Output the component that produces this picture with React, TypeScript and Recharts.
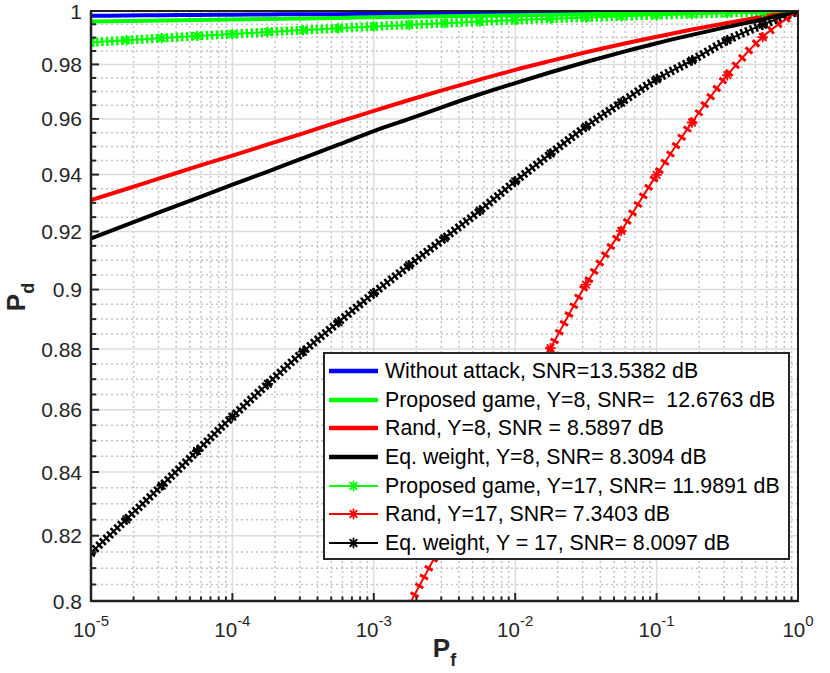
import React from "react";
import { LineChart, Line, XAxis, YAxis, CartesianGrid, Legend, Label } from "recharts";

// P_f grid, quarter-decade steps (exponents of ten)
const pfExp = [-5, -4.75, -4.5, -4.25, -4, -3.75, -3.5, -3.25, -3, -2.75, -2.5, -2.25, -2, -1.75, -1.5, -1.25, -1, -0.75, -0.5, -0.25, 0];
const pf = pfExp.map((e) => Math.pow(10, e));

// P_d
const noAttack = [0.9982, 0.9983, 0.9984, 0.9985, 0.9986, 0.9987, 0.9988, 0.9988, 0.9989, 0.999, 0.9991, 0.9992, 0.9993, 0.9994, 0.9995, 0.9995, 0.9996, 0.9997, 0.9998, 0.9999, 1.0];
const gameY8 = [0.996, 0.9962, 0.9964, 0.9966, 0.9968, 0.997, 0.9972, 0.9974, 0.9976, 0.9978, 0.998, 0.9982, 0.9984, 0.9986, 0.9988, 0.999, 0.9992, 0.9994, 0.9996, 0.9998, 1.0];
const randY8 = [0.931, 0.9349, 0.9389, 0.9429, 0.9468, 0.9508, 0.9548, 0.9589, 0.9629, 0.9669, 0.9707, 0.9744, 0.978, 0.9813, 0.9845, 0.9875, 0.9903, 0.993, 0.9955, 0.9978, 1.0];
const eqY8 = [0.9176, 0.9223, 0.927, 0.9317, 0.9364, 0.9411, 0.9459, 0.9507, 0.9556, 0.96, 0.9646, 0.969, 0.9731, 0.9771, 0.9809, 0.9845, 0.9879, 0.991, 0.994, 0.9968, 1.0];
const gameY17 = [0.9882, 0.989, 0.9898, 0.9906, 0.9913, 0.9921, 0.9928, 0.9935, 0.9942, 0.9948, 0.9954, 0.996, 0.9966, 0.9971, 0.9975, 0.998, 0.9984, 0.9988, 0.9992, 0.9996, 1.0];
const randY17 = [null, null, null, null, null, null, null, null, null, 0.7988, 0.819, 0.8391, 0.8596, 0.8803, 0.9017, 0.9202, 0.9399, 0.9587, 0.976, 0.9902, 1.0];
const eqY17 = [0.8147, 0.8251, 0.8357, 0.8467, 0.8578, 0.8685, 0.8791, 0.889, 0.8988, 0.9083, 0.9177, 0.9273, 0.9376, 0.9475, 0.9572, 0.966, 0.9745, 0.9815, 0.989, 0.9948, 1.0];

const legendNames = [
  "Without attack, SNR=13.5382 dB",
  "Proposed game, Y=8, SNR=  12.6763 dB",
  "Rand, Y=8, SNR = 8.5897 dB",
  "Eq. weight, Y=8, SNR= 8.3094 dB",
  "Proposed game, Y=17, SNR= 11.9891 dB",
  "Rand, Y=17, SNR= 7.3403 dB",
  "Eq. weight, Y = 17, SNR= 8.0097 dB",
];

const xMajorTicks = [1e-5, 1e-4, 1e-3, 1e-2, 1e-1, 1];
const yMajorTicks = [0.8, 0.82, 0.84, 0.86, 0.88, 0.9, 0.92, 0.94, 0.96, 0.98, 1];

const xMinorTicks = xMajorTicks.slice(0, -1).flatMap((d) => [2, 3, 4, 5, 6, 7, 8, 9].map((m) => m * d));
const yMinorTicks = yMajorTicks.slice(0, -1).flatMap((t) => [1, 2, 3].map((k) => Math.round((t + 0.005 * k) * 1000) / 1000));
const xAllTicks = [...xMajorTicks, ...xMinorTicks].sort((a, b) => a - b);
const yAllTicks = [...yMajorTicks, ...yMinorTicks].sort((a, b) => a - b);

const rows = pf.map((x, i) => ({
  pf: x,
  noAttack: noAttack[i],
  gameY8: gameY8[i],
  randY8: randY8[i],
  eqY8: eqY8[i],
  gameY17: gameY17[i],
  randY17: randY17[i],
  eqY17: eqY17[i],
}));

const series = [
  { key: "noAttack", color: "#0000ff", star: false, band: "" },
  { key: "gameY8", color: "#00ff00", star: false, band: "" },
  { key: "randY8", color: "#ff0000", star: false, band: "" },
  { key: "eqY8", color: "#000000", star: false, band: "" },
  { key: "gameY17", color: "#00ff00", star: true, band: "2.5 2.5" },
  { key: "randY17", color: "#ff0000", star: true, band: "3 7" },
  { key: "eqY17", color: "#000000", star: true, band: "2.5 2.5" },
];

const FONT = '"Liberation Sans", Arial, Helvetica, sans-serif';
const AX = "#262626";

// plot rectangle inside the 830x673 chart
const PLOT = { left: 91, top: 11, right: 798, bottom: 601 };

const isMajor = (list: number[], v: number) => list.some((t) => Math.abs(Math.log10(t) - Math.log10(v)) < 1e-6);

function Asterisk({ cx, cy, color, r = 4.5, sw = 1.8 }: any) {
  if (cx == null || cy == null || isNaN(cx) || isNaN(cy)) return <g />;
  const d = r * 0.72;
  return (
    <g stroke={color} strokeWidth={sw} strokeLinecap="round">
      <line x1={cx - r} y1={cy} x2={cx + r} y2={cy} />
      <line x1={cx} y1={cy - r} x2={cx} y2={cy + r} />
      <line x1={cx - d} y1={cy - d} x2={cx + d} y2={cy + d} />
      <line x1={cx - d} y1={cy + d} x2={cx + d} y2={cy - d} />
    </g>
  );
}

function BottomTick(props: any) {
  const { x, y, payload } = props;
  const v = payload.value;
  const major = isMajor(xMajorTicks, v);
  const e = Math.round(Math.log10(v));
  return (
    <g>
      <line x1={x} x2={x} y1={y} y2={y - (major ? 8 : 4.5)} stroke={AX} strokeWidth={2} />
      {major && (
        <text x={x} y={y + 36} textAnchor="middle" fontSize={20.5} fill={AX} fontFamily={FONT}>
          <tspan>10</tspan>
          <tspan dy={-11} fontSize={15}>{String(e)}</tspan>
        </text>
      )}
    </g>
  );
}

function TopTick(props: any) {
  const { x, y, payload } = props;
  const major = isMajor(xMajorTicks, payload.value);
  return <line x1={x} x2={x} y1={y} y2={y + (major ? 8 : 4.5)} stroke={AX} strokeWidth={2} />;
}

function LeftTick(props: any) {
  const { x, y, payload } = props;
  const v = payload.value;
  const major = isMajor(yMajorTicks, v);
  return (
    <g>
      <line x1={x} x2={x + (major ? 8 : 5)} y1={y} y2={y} stroke={AX} strokeWidth={2} />
      {major && (
        <text x={x - 9} y={y} dy="0.36em" textAnchor="end" fontSize={21} fill={AX} fontFamily={FONT}>
          {v === 1 ? "1" : String(v)}
        </text>
      )}
    </g>
  );
}

function RightTick(props: any) {
  const { x, y, payload } = props;
  const major = isMajor(yMajorTicks, payload.value);
  return <line x1={x} x2={x - (major ? 8 : 5)} y1={y} y2={y} stroke={AX} strokeWidth={2} />;
}

function PfLabel(props: any) {
  const vb = props.viewBox || {};
  const cx = vb.x + vb.width / 2;
  return (
    <text x={cx} y={vb.y + 56} textAnchor="middle" fontFamily={FONT} fontWeight="bold" fontSize={26} fill={AX}>
      <tspan>P</tspan>
      <tspan dy={9} fontSize={18}>f</tspan>
    </text>
  );
}

function PdLabel(props: any) {
  const vb = props.viewBox || {};
  const cx = 25;
  const cy = vb.y + vb.height / 2 - 9;
  return (
    <text x={cx} y={cy} transform={`rotate(-90, ${cx}, ${cy})`} textAnchor="middle" fontFamily={FONT} fontWeight="bold" fontSize={26} fill={AX}>
      <tspan>P</tspan>
      <tspan dy={9} fontSize={18}>d</tspan>
    </text>
  );
}

function LegendBox() {
  return (
    <div
      style={{
        boxSizing: "border-box",
        width: 467,
        height: 208,
        border: `2px solid ${AX}`,
        background: "#fff",
        paddingTop: 3,
        fontFamily: FONT,
        fontSize: 21.3,
        color: "#000",
      }}
    >
      {series.map((s, i) => (
        <div key={s.key} style={{ display: "flex", alignItems: "center", height: 28.6 }}>
          <svg width={60} height={28} style={{ flex: "none" }}>
            <line x1={4} x2={53} y1={14} y2={14} stroke={s.color} strokeWidth={s.star ? 1.8 : 4.5} />
            {s.star && <Asterisk cx={28.5} cy={14} color={s.color} />}
          </svg>
          <span style={{ whiteSpace: "pre", lineHeight: "28px" }}>{legendNames[i]}</span>
        </div>
      ))}
    </div>
  );
}

export default function App() {
  return (
    <div style={{ position: "absolute", left: 0, top: 0, width: 830, height: 673, background: "#fff" }}>
      <LineChart width={830} height={673} data={rows} margin={{ top: PLOT.top, right: 830 - PLOT.right, left: 8, bottom: 0 }}>
        <CartesianGrid horizontalValues={yMinorTicks} verticalValues={xMinorTicks} stroke="#c4c4c4" strokeWidth={1.5} strokeDasharray="2 3" />
        <CartesianGrid horizontalValues={yMajorTicks} verticalValues={xMajorTicks} stroke="#dcdcdc" strokeWidth={1.5} />
        <XAxis
          dataKey="pf"
          type="number"
          scale="log"
          domain={[1e-5, 1]}
          allowDataOverflow
          ticks={xAllTicks}
          interval={0}
          height={673 - PLOT.bottom}
          tickSize={0}
          tickMargin={0}
          tick={<BottomTick />}
          axisLine={{ stroke: AX, strokeWidth: 2.5 }}
        >
          <Label content={<PfLabel />} />
        </XAxis>
        <XAxis
          xAxisId="top"
          orientation="top"
          dataKey="pf"
          type="number"
          scale="log"
          domain={[1e-5, 1]}
          allowDataOverflow
          ticks={xAllTicks}
          interval={0}
          height={0}
          tickSize={0}
          tickMargin={0}
          tick={<TopTick />}
          axisLine={{ stroke: AX, strokeWidth: 2.5 }}
        />
        <YAxis
          type="number"
          scale="log"
          domain={[0.8, 1]}
          allowDataOverflow
          ticks={yAllTicks}
          interval={0}
          width={PLOT.left - 8}
          tickSize={0}
          tickMargin={0}
          tick={<LeftTick />}
          axisLine={{ stroke: AX, strokeWidth: 2.5 }}
        >
          <Label content={<PdLabel />} />
        </YAxis>
        <YAxis
          yAxisId="right"
          orientation="right"
          type="number"
          scale="log"
          domain={[0.8, 1]}
          allowDataOverflow
          ticks={yAllTicks}
          interval={0}
          width={0}
          tickSize={0}
          tickMargin={0}
          tick={<RightTick />}
          axisLine={{ stroke: AX, strokeWidth: 2.5 }}
        />
        {series.map((s) =>
          s.star ? (
            <Line
              key={s.key + "-band"}
              dataKey={s.key}
              stroke={s.color}
              strokeWidth={9}
              strokeDasharray={s.band}
              dot={false}
              activeDot={false}
              legendType="none"
              isAnimationActive={false}
              type="monotone"
            />
          ) : null
        )}
        {series.map((s) => (
          <Line
            key={s.key}
            dataKey={s.key}
            stroke={s.color}
            strokeWidth={s.star ? 2 : 4}
            type="monotone"
            isAnimationActive={false}
            activeDot={false}
            dot={
              s.star
                ? (p: any) => <Asterisk key={`${s.key}-${p.index}`} cx={p.cx} cy={p.cy} color={s.color} />
                : false
            }
          />
        ))}
        <Legend
          layout="horizontal"
          verticalAlign="middle"
          align="center"
          wrapperStyle={{ left: 323, top: 352, width: 467, height: 208 }}
          content={() => <LegendBox />}
        />
      </LineChart>
      <div
        style={{
          position: "absolute",
          zIndex: 10,
          left: PLOT.left - 1.25,
          top: PLOT.top - 1.25,
          width: PLOT.right - PLOT.left + 2.5,
          height: PLOT.bottom - PLOT.top + 2.5,
          boxSizing: "border-box",
          border: "2.5px solid #202020",
          pointerEvents: "none",
        }}
      />
    </div>
  );
}
